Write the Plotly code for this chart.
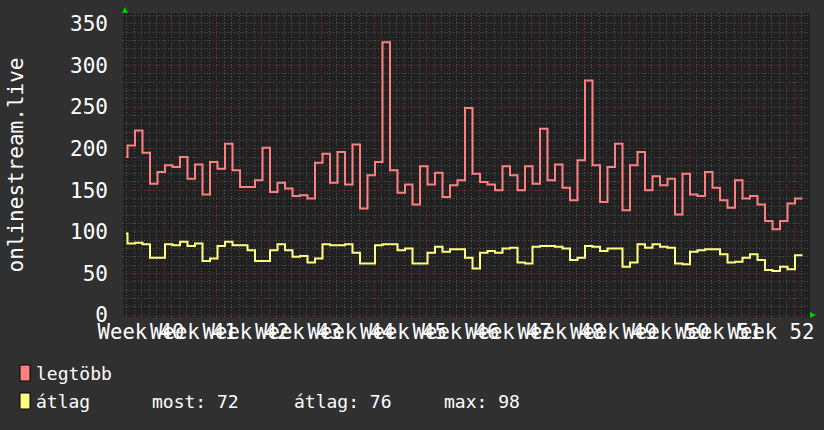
import plotly.graph_objects as go

# ---- data (daily samples) ----
legtobb = [190, 204, 222, 195, 158, 172, 180, 178, 190, 164,
           181, 145, 184, 176, 206, 174, 154, 154, 162, 201,
           148, 159, 152, 143, 144, 140, 183, 194, 159, 196,
           157, 205, 128, 168, 184, 328, 174, 147, 157, 133,
           179, 157, 171, 142, 156, 162, 249, 170, 160, 157,
           150, 179, 168, 150, 179, 158, 224, 162, 181, 153,
           138, 186, 282, 180, 136, 178, 206, 126, 180, 196,
           150, 167, 156, 164, 121, 170, 145, 143, 172, 153,
           138, 129, 162, 140, 143, 133, 113, 103, 113, 134,
           140]
atlag = [98, 86, 87, 85, 69, 69, 85, 84, 88, 83,
         86, 65, 68, 83, 88, 84, 84, 78, 65, 65,
         78, 85, 78, 70, 71, 63, 68, 85, 84, 84,
         85, 75, 62, 62, 84, 85, 85, 78, 80, 62,
         62, 75, 82, 76, 79, 79, 69, 56, 75, 77,
         75, 80, 81, 63, 62, 82, 83, 83, 82, 80,
         66, 69, 83, 82, 77, 80, 80, 58, 63, 85,
         81, 85, 82, 81, 62, 61, 76, 78, 79, 79,
         73, 63, 64, 69, 73, 66, 54, 53, 58, 55,
         72]
# day index of each sample start (first sample is a partial day)
days = [-0.2] + list(range(0, 90))
week_labels = ["Week 40", "Week 41", "Week 42", "Week 43", "Week 44", "Week 45",
               "Week 46", "Week 47", "Week 48", "Week 49", "Week 50", "Week 51", "Week 52"]
week_label_pos = [1.8, 8.8, 15.8, 22.8, 29.8, 36.8, 43.8, 50.8, 57.8, 64.8, 71.8, 78.8, 85.8]
y_title = "onlinestream.live"
series_names = ["legtöbb", "átlag"]
stats_text = ["most: 72", "átlag: 76", "max: 98"]

RED = "#FF8080"
YEL = "#FFFF80"
FONT = "DejaVu Sans Mono"

# step end point so the last sample gets its full width
xs = days + [90]
red_y = legtobb + [legtobb[-1]]
yel_y = atlag + [atlag[-1]]

W, H = 824, 430
ML, MR, MT, MB = 123, 14, 13, 113
PW, PH = W - ML - MR, H - MT - MB


def px(xp):
    return (xp - ML) / PW


def py(yp):
    return (H - MB - yp) / PH


fig = go.Figure()
fig.add_trace(go.Scatter(x=xs, y=red_y, mode="lines", name=series_names[0],
                         line=dict(color=RED, width=2, shape="hv"), showlegend=False))
fig.add_trace(go.Scatter(x=xs, y=yel_y, mode="lines", name=series_names[1], xaxis="x2",
                         line=dict(color=YEL, width=2, shape="hv"), showlegend=False))

minor_grid = "#555555"
major_grid = "#8a3434"

fig.update_layout(
    template="none",
    width=W, height=H,
    margin=dict(l=ML, r=MR, t=MT, b=MB, autoexpand=False),
    paper_bgcolor="#303030",
    plot_bgcolor="#212121",
    font=dict(family=FONT, color="white", size=21),
    showlegend=False,
    xaxis=dict(
        range=[-0.6, 91.0], showticklabels=False, ticks="", zeroline=False, showline=False,
        automargin=False,
        tick0=4.9, dtick=7, showgrid=True, gridcolor=major_grid, griddash="1px,2px", gridwidth=1,
        minor=dict(tick0=4.9, dtick=1, showgrid=True, gridcolor=minor_grid,
                   griddash="1px,2px", gridwidth=1),
    ),
    xaxis2=dict(
        range=[-0.6, 91.0], overlaying="x", anchor="y", side="bottom",
        tickmode="array", tickvals=week_label_pos, ticktext=week_labels, tickangle=0,
        showgrid=False, zeroline=False, showline=False, ticks="", automargin=False,
        ticklabelstandoff=0,
        tickfont=dict(family=FONT, color="white", size=20.6),
    ),
    yaxis=dict(
        range=[-2.4, 363.2], tick0=0, dtick=50, ticks="", zeroline=False, showline=False,
        automargin=False,
        showgrid=True, gridcolor=major_grid, griddash="1px,2px", gridwidth=1,
        minor=dict(tick0=0, dtick=10, showgrid=True, gridcolor=minor_grid,
                   griddash="1px,2px", gridwidth=1),
        tickfont=dict(family=FONT, color="white", size=21),
        ticklabelstandoff=14,
        title=dict(text=y_title, font=dict(family=FONT, color="white", size=21), standoff=40),
    ),
)

# legend swatches
fig.add_shape(type="rect", xref="paper", yref="paper",
              x0=px(20), x1=px(30), y0=py(381), y1=py(365),
              fillcolor=RED, line=dict(color="black", width=1))
fig.add_shape(type="rect", xref="paper", yref="paper",
              x0=px(20), x1=px(30), y0=py(409), y1=py(393),
              fillcolor=YEL, line=dict(color="black", width=1))

LF = dict(family=FONT, color="white", size=18)
fig.add_annotation(xref="paper", yref="paper", x=px(34), y=py(373), text=series_names[0],
                   showarrow=False, xanchor="left", yanchor="middle", font=LF)
fig.add_annotation(xref="paper", yref="paper", x=px(34), y=py(401), text=series_names[1],
                   showarrow=False, xanchor="left", yanchor="middle", font=LF)
for xpos, t in zip([150, 292, 442], stats_text):
    fig.add_annotation(xref="paper", yref="paper", x=px(xpos), y=py(401), text=t,
                       showarrow=False, xanchor="left", yanchor="middle", font=LF)

# green axis arrows
fig.add_shape(type="path", xref="paper", yref="paper",
              path=f"M {px(122)},{py(13)} L {px(128)},{py(13)} L {px(125)},{py(7)} Z",
              fillcolor="#00cc00", line=dict(width=0))
fig.add_shape(type="path", xref="paper", yref="paper",
              path=f"M {px(810)},{py(312)} L {px(810)},{py(318)} L {px(816)},{py(315)} Z",
              fillcolor="#00cc00", line=dict(width=0))

fig.write_html(
    "out.html",
    config={"displayModeBar": False},
    post_script="document.body.style.margin='0';document.body.style.background='#303030';",
)
